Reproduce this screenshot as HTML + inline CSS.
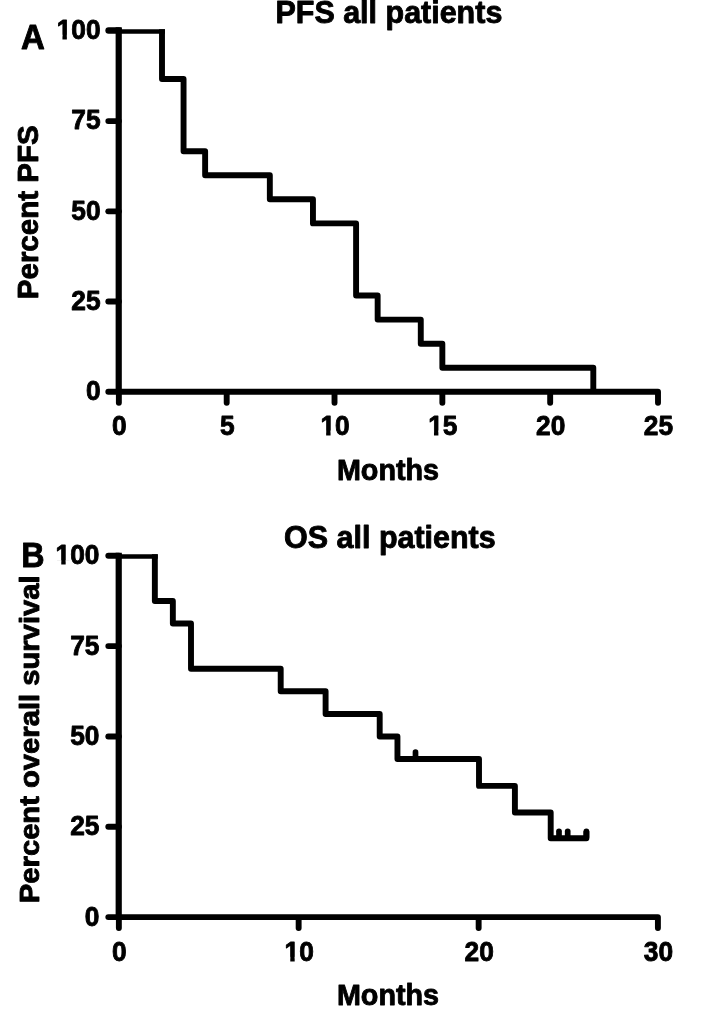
<!DOCTYPE html>
<html><head><meta charset="utf-8"><title>Kaplan-Meier</title>
<style>
html,body{margin:0;padding:0;background:#fff;}
body{width:714px;height:1022px;overflow:hidden;}
svg{display:block;filter:blur(0.45px);}
text{font-family:"Liberation Sans",sans-serif;font-weight:bold;fill:#000;stroke:#000;stroke-width:0.9px;stroke-linejoin:round;}
.ln path{stroke:#000;stroke-width:5.9;fill:none;stroke-linecap:round;stroke-linejoin:round;}
</style></head><body>
<svg width="714" height="1022" viewBox="0 0 714 1022">
<rect width="714" height="1022" fill="#fff"/>
<!-- Panel A -->
<g class="ln">
<path d="M118.72 27.35 V391.80" style="stroke-linecap:butt;stroke-width:6.2px"/>
<path d="M108.30 391.80 H658.00 V402.80"/>
<path d="M108.30 301.57 H118.87"/>
<path d="M108.30 211.35 H118.87"/>
<path d="M108.30 121.12 H118.87"/>
<path d="M108.60 30.60 H118.87" style="stroke-width:6.5px"/>
<path d="M118.87 392.80 V402.80"/>
<path d="M226.69 392.80 V402.80"/>
<path d="M334.52 392.80 V402.80"/>
<path d="M442.35 392.80 V402.80"/>
<path d="M550.17 392.80 V402.80"/>
<path d="M118.87 31.58 H164.95" style="stroke-width:4.55px;stroke-linecap:butt"/>
<path d="M162.00 29.30 V79.02 H183.56 V151.20 H205.13 V175.26 H269.83 V199.32 H312.96 V223.38 H356.09 V295.56 H377.65 V319.62 H420.78 V343.68 H442.35 V367.74 H593.30 V391.80" style="stroke-linecap:butt"/>
</g>
<text id="A_title" transform="translate(388.90 22.60) scale(0.9525 1)" font-size="32.00" text-anchor="middle">PFS all patients</text>
<text id="A_letter" transform="translate(20.90 48.60) scale(0.9550 1)" font-size="34.50">A</text>
<text id="A_y0" transform="translate(100.60 400.00) scale(0.9400 1)" font-size="28.00" text-anchor="end">0</text>
<text id="A_y25" transform="translate(100.60 309.77) scale(0.9400 1)" font-size="28.00" text-anchor="end">25</text>
<text id="A_y50" transform="translate(100.60 219.55) scale(0.9400 1)" font-size="28.00" text-anchor="end">50</text>
<text id="A_y75" transform="translate(100.60 129.32) scale(0.9400 1)" font-size="28.00" text-anchor="end">75</text>
<text id="A_y100" transform="translate(100.60 38.70) scale(0.9400 1)" font-size="28.00" text-anchor="end">100</text>
<text id="A_x0" transform="translate(119.37 434.50) scale(0.9400 1)" font-size="28.00" text-anchor="middle">0</text>
<text id="A_x5" transform="translate(227.19 434.50) scale(0.9400 1)" font-size="28.00" text-anchor="middle">5</text>
<text id="A_x10" transform="translate(335.02 434.50) scale(0.9400 1)" font-size="28.00" text-anchor="middle">10</text>
<text id="A_x15" transform="translate(442.85 434.50) scale(0.9400 1)" font-size="28.00" text-anchor="middle">15</text>
<text id="A_x20" transform="translate(550.67 434.50) scale(0.9400 1)" font-size="28.00" text-anchor="middle">20</text>
<text id="A_x25" transform="translate(658.50 434.50) scale(0.9400 1)" font-size="28.00" text-anchor="middle">25</text>
<text id="A_xl" transform="translate(388.00 479.60) scale(0.9461 1)" font-size="30.40" text-anchor="middle">Months</text>
<text id="A_yl" transform="translate(37.85 212.30) rotate(-90) scale(0.9840 1)" font-size="30.00" text-anchor="middle">Percent PFS</text>
<!-- Panel B -->
<g class="ln">
<path d="M118.72 552.65 V917.10" style="stroke-linecap:butt;stroke-width:6.2px"/>
<path d="M108.30 917.10 H657.91 V928.10"/>
<path d="M108.30 826.77 H118.87"/>
<path d="M108.30 736.45 H118.87"/>
<path d="M108.30 646.12 H118.87"/>
<path d="M108.40 555.70 H118.87" style="stroke-width:6.1px"/>
<path d="M118.87 918.10 V928.10"/>
<path d="M298.65 918.10 V928.10"/>
<path d="M478.65 918.10 V928.10"/>
<path d="M118.87 556.48 H157.76" style="stroke-width:4.55px;stroke-linecap:butt"/>
<path d="M154.85 554.20 V600.96 H172.85 V623.54 H191.00 V668.71 H280.70 V691.29 H325.60 V713.97 H379.70 V736.55 H397.45 V759.03 H479.00 V785.90 H514.90 V812.50 H550.70 V838.30 H586.40 V831.3" style="stroke-linecap:butt"/>
<path d="M415.50 757.83 V752.03" style="stroke-width:5.7px"/>
<path d="M559.00 837.10 V831.30" style="stroke-width:5.7px"/>
<path d="M567.70 837.10 V831.30" style="stroke-width:5.7px"/>
<path d="M586.40 837.10 V831.30" style="stroke-width:5.7px"/>
</g>
<text id="B_title" transform="translate(389.90 547.50) scale(0.9525 1)" font-size="32.00" text-anchor="middle">OS all patients</text>
<text id="B_letter" transform="translate(21.20 566.50) scale(0.9350 1)" font-size="34.50">B</text>
<text id="B_y0" transform="translate(99.40 925.50) scale(0.9400 1)" font-size="28.00" text-anchor="end">0</text>
<text id="B_y25" transform="translate(99.40 835.17) scale(0.9400 1)" font-size="28.00" text-anchor="end">25</text>
<text id="B_y50" transform="translate(99.40 744.85) scale(0.9400 1)" font-size="28.00" text-anchor="end">50</text>
<text id="B_y75" transform="translate(99.40 654.52) scale(0.9400 1)" font-size="28.00" text-anchor="end">75</text>
<text id="B_y100" transform="translate(99.40 564.20) scale(0.9400 1)" font-size="28.00" text-anchor="end">100</text>
<text id="B_x0" transform="translate(119.37 960.80) scale(0.9400 1)" font-size="28.00" text-anchor="middle">0</text>
<text id="B_x10" transform="translate(299.15 960.80) scale(0.9400 1)" font-size="28.00" text-anchor="middle">10</text>
<text id="B_x20" transform="translate(479.15 960.80) scale(0.9400 1)" font-size="28.00" text-anchor="middle">20</text>
<text id="B_x30" transform="translate(658.41 960.80) scale(0.9400 1)" font-size="28.00" text-anchor="middle">30</text>
<text id="B_xl" transform="translate(388.00 1005.20) scale(0.9461 1)" font-size="30.40" text-anchor="middle">Months</text>
<text id="B_yl" transform="translate(38.60 739.30) rotate(-90) scale(1.0464 1)" font-size="27.90" text-anchor="middle">Percent overall survival</text>
<g id="foot" fill="#fff"><g transform="translate(100.60 38.70) scale(0.9400 1)"><rect x="-47.75" y="-3.96" width="7.17" height="6.46"/><rect x="-35.89" y="-3.96" width="5.52" height="6.46"/></g><g transform="translate(335.02 434.50) scale(0.9400 1)"><rect x="-16.61" y="-3.96" width="7.17" height="6.46"/><rect x="-4.75" y="-3.96" width="5.52" height="6.46"/></g><g transform="translate(442.85 434.50) scale(0.9400 1)"><rect x="-16.61" y="-3.96" width="7.17" height="6.46"/><rect x="-4.75" y="-3.96" width="5.52" height="6.46"/></g><g transform="translate(99.40 564.20) scale(0.9400 1)"><rect x="-47.75" y="-3.96" width="7.17" height="6.46"/><rect x="-35.89" y="-3.96" width="5.52" height="6.46"/></g><g transform="translate(299.15 960.80) scale(0.9400 1)"><rect x="-16.61" y="-3.96" width="7.17" height="6.46"/><rect x="-4.75" y="-3.96" width="5.52" height="6.46"/></g></g>
</svg></body></html>
